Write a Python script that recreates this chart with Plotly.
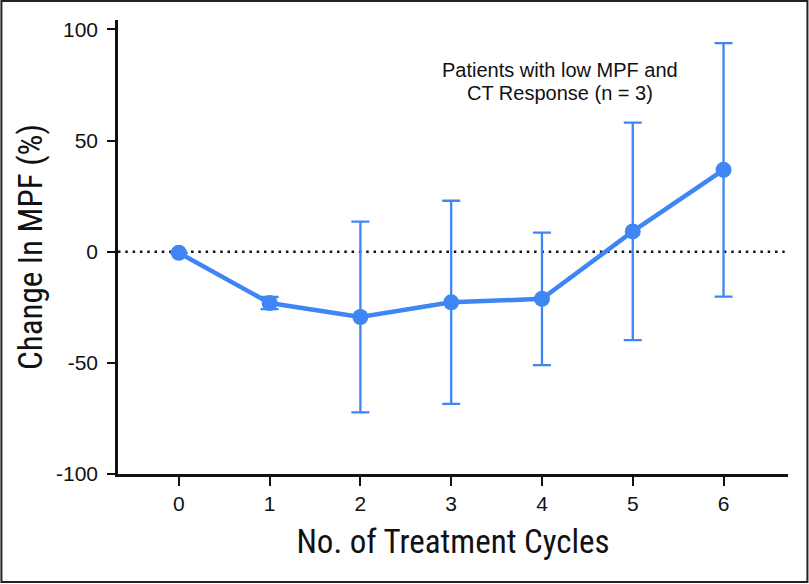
import plotly.graph_objects as go

cycles = [0, 1, 2, 3, 4, 5, 6]
mpf_change = [-0.5, -23.1, -29.4, -22.8, -21.2, 9.1, 36.8]
err = [0.0, 2.7, 42.9, 45.7, 29.8, 48.9, 57.0]

x_tick_labels = ["0", "1", "2", "3", "4", "5", "6"]
y_ticks = [-100, -50, 0, 50, 100]
y_tick_labels = ["-100", "-50", "0", "50", "100"]

blue = "#3f86f4"
tickfont = dict(family="Liberation Sans, Arial, sans-serif", size=21, color="#111")
titlefont = dict(family="Liberation Sans Narrow, Roboto Condensed, Liberation Sans, sans-serif", size=33, color="#111")

fig = go.Figure()
fig.add_trace(go.Scatter(
    x=cycles, y=mpf_change,
    mode="lines+markers",
    line=dict(color=blue, width=4.5),
    marker=dict(color=blue, size=16),
    error_y=dict(type="data", array=err, visible=True, color=blue, thickness=2.3, width=9),
    showlegend=False,
))

fig.add_shape(type="line", xref="paper", yref="y", x0=0, x1=0.995, y0=0, y1=0,
              line=dict(color="#111", width=2.5, dash="2.5px,4.8px"), layer="below")

fig.add_annotation(x=4.2, y=81.5, xref="x", yref="y",
                   text="Patients with low MPF and",
                   showarrow=False, font=dict(family="Liberation Sans, Arial, sans-serif", size=20, color="#111"))
fig.add_annotation(x=4.2, y=71.2, xref="x", yref="y",
                   text="CT Response (n = 3)",
                   showarrow=False, font=dict(family="Liberation Sans, Arial, sans-serif", size=20, color="#111"))

# outer frame
fig.add_shape(type="rect", xref="paper", yref="paper",
              x0=-0.174, x1=1.029, y0=-0.238, y1=1.042,
              line=dict(color="#222", width=2))

fig.update_layout(
    width=809, height=584,
    margin=dict(l=118, r=21, t=20, b=110),
    plot_bgcolor="white", paper_bgcolor="white",
    xaxis=dict(range=[-0.67, 6.71], tickvals=cycles, ticktext=x_tick_labels,
               showline=True, linecolor="#111", linewidth=2.5,
               ticks="outside", ticklen=9, tickwidth=2, tickcolor="#111",
               showgrid=False, zeroline=False, tickfont=tickfont,
               title=dict(text="No. of Treatment Cycles", font=titlefont, standoff=16)),
    yaxis=dict(range=[-100, 104.2], tickvals=y_ticks, ticktext=y_tick_labels,
               showline=True, linecolor="#111", linewidth=2.5,
               ticks="outside", ticklen=8, tickwidth=2, tickcolor="#111",
               ticklabelstandoff=5,
               showgrid=False, zeroline=False, tickfont=tickfont,
               title=dict(text="Change In MPF (%)", font=titlefont, standoff=4)),
)

fig.write_html("out.html", config={"displayModeBar": False},
               post_script="document.body.style.margin='0';")
